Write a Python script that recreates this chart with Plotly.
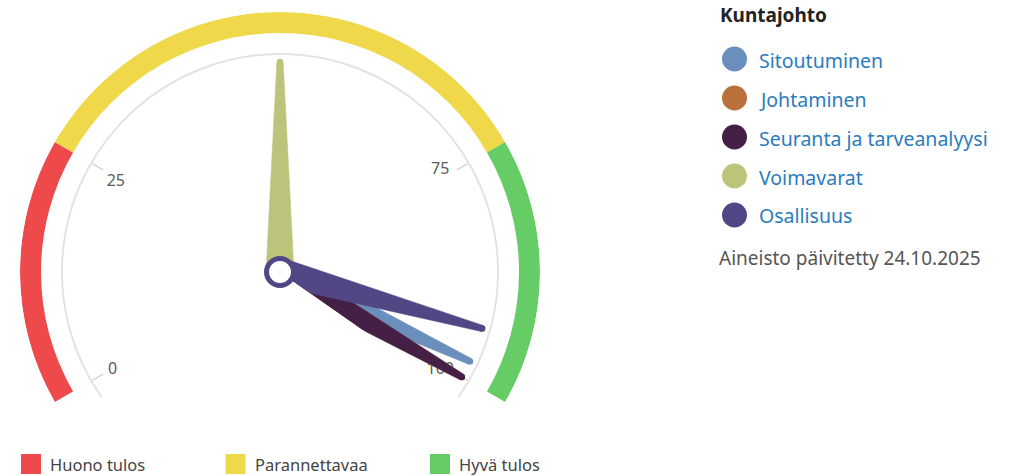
import math
import plotly.graph_objects as go

W, H = 1015, 476

# ---------------- data ----------------
series_names = ["Sitoutuminen", "Johtaminen", "Seuranta ja tarveanalyysi", "Voimavarat", "Osallisuus"]
series_values = [98, 100, 100, 50, 94]
series_colors = ["#6b8fbd", "#b9703a", "#442047", "#bcc47b", "#524685"]

band_names = ["Huono tulos", "Parannettavaa", "Hyvä tulos"]
band_from = [0, 25, 75]
band_to = [25, 75, 100]
band_colors = ["#ef4a4b", "#efd84a", "#66cc66"]

tick_values = [0, 25, 75, 100]
tick_labels = ["0", "25", "75", "100"]

legend_title = "Kuntajohto"
updated_text = "Aineisto päivitetty 24.10.2025"

# ---------------- gauge scale ----------------
GAUGE_MIN, GAUGE_MAX = 0, 100
START_ANGLE, END_ANGLE = -120, 120


def to_theta(v):
    return START_ANGLE + (v - GAUGE_MIN) / (GAUGE_MAX - GAUGE_MIN) * (END_ANGLE - START_ANGLE)


FONT = "Noto Sans"
CX, CY, R = 280, 272, 260
SECTOR = [-35, 215]
# small per-label placement tweaks (style only)
LABEL_R = [194, 187, 190, 188]
LABEL_DTHETA = [-0.3, -1.4, -2.5, 1.5]


def px(x):
    return x / W


def py(y):
    return 1 - y / H


fig = go.Figure()

# colored bands
fig.add_trace(go.Barpolar(
    r=[21] * len(band_from),
    base=[239] * len(band_from),
    theta=[to_theta((a + b) / 2) for a, b in zip(band_from, band_to)],
    width=[to_theta(b) - to_theta(a) for a, b in zip(band_from, band_to)],
    marker=dict(color=band_colors, line=dict(width=0)),
    hoverinfo="skip", showlegend=False,
))

# tick marks
tr, tt = [], []
for v in tick_values:
    tr += [204, 217, None]
    tt += [to_theta(v), to_theta(v), None]
fig.add_trace(go.Scatterpolar(r=tr, theta=tt, mode="lines",
                              line=dict(color="#cfcfcf", width=1.2),
                              hoverinfo="skip", showlegend=False))

# tick labels
fig.add_trace(go.Scatterpolar(
    r=LABEL_R, theta=[to_theta(v) + dt for v, dt in zip(tick_values, LABEL_DTHETA)],
    mode="text", text=tick_labels,
    textfont=dict(family=FONT, size=16, color="#5a5a5a"),
    hoverinfo="skip", showlegend=False))

# needles
BASE_HALF, TIP_R, TIP_HALF = 14, 210, 3.2
for name, val, col in zip(series_names, series_values, series_colors):
    th = to_theta(val)
    d = math.degrees(math.atan(TIP_HALF / TIP_R))
    fig.add_trace(go.Scatterpolar(
        r=[BASE_HALF, TIP_R, TIP_R, BASE_HALF, BASE_HALF],
        theta=[th - 90, th - d, th + d, th + 90, th - 90],
        mode="lines", fill="toself", fillcolor=col,
        line=dict(color=col, width=0.5),
        name=name, hoverinfo="name", showlegend=False))
    fig.add_trace(go.Scatterpolar(
        r=[TIP_R], theta=[th], mode="markers",
        marker=dict(size=2 * TIP_HALF, color=col, line=dict(width=0)),
        hoverinfo="skip", showlegend=False))

# pivot
fig.add_trace(go.Scatterpolar(
    r=[0], theta=[0], mode="markers",
    marker=dict(size=27, color="white", line=dict(color=series_colors[-1], width=5)),
    hoverinfo="skip", showlegend=False))

# polar domain so that center/radius land at CX, CY, R
ymin = min(math.sin(math.radians(SECTOR[0])), math.sin(math.radians(SECTOR[1])))
top = CY - R
bottom = CY - ymin * R
fig.update_layout(
    polar=dict(
        domain=dict(x=[px(CX - R), px(CX + R)], y=[py(bottom), py(top)]),
        sector=SECTOR,
        bgcolor="white",
        radialaxis=dict(range=[0, R], tickvals=[218], showticklabels=False, ticks="",
                        showline=False, showgrid=True, gridcolor="#e3e3e3", gridwidth=1.5),
        angularaxis=dict(rotation=90, direction="clockwise", thetaunit="degrees",
                         showgrid=False, showticklabels=False, ticks="", showline=False),
    ),
    width=W, height=H,
    margin=dict(l=0, r=0, t=0, b=0),
    paper_bgcolor="white",
    showlegend=False,
)

shapes = []
annotations = []

# right legend
annotations.append(dict(x=px(718), y=py(15), xref="paper", yref="paper",
                        text="<b>" + legend_title + "</b>", showarrow=False,
                        xanchor="left", yanchor="middle",
                        font=dict(family=FONT, size=19, color="#222222")))
for i, (name, col) in enumerate(zip(series_names, series_colors)):
    yc = 59 + i * 39
    shapes.append(dict(type="circle", xref="paper", yref="paper",
                       x0=px(722), x1=px(747), y0=py(yc + 12.5), y1=py(yc - 12.5),
                       fillcolor=col, line=dict(width=0)))
    annotations.append(dict(x=px(757), y=py(yc + 1), xref="paper", yref="paper",
                            text=name, showarrow=False, xanchor="left", yanchor="middle",
                            font=dict(family=FONT, size=19.5, color="#2b7bbe")))
annotations.append(dict(x=px(717), y=py(258), xref="paper", yref="paper",
                        text=updated_text, showarrow=False, xanchor="left", yanchor="middle",
                        font=dict(family=FONT, size=19, color="#555555")))

# bottom legend
for i, (name, col) in enumerate(zip(band_names, band_colors)):
    x0 = 21 + i * 204.5
    shapes.append(dict(type="rect", xref="paper", yref="paper",
                       x0=px(x0), x1=px(x0 + 20), y0=py(474), y1=py(454),
                       fillcolor=col, line=dict(width=0)))
    annotations.append(dict(x=px(x0 + 27), y=py(464), xref="paper", yref="paper",
                            text=name, showarrow=False, xanchor="left", yanchor="middle",
                            font=dict(family=FONT, size=16.5, color="#444444")))

fig.update_layout(shapes=shapes, annotations=annotations)
fig.write_html("out.html",
               config={"displayModeBar": False},
               post_script="document.body.style.margin='0';document.body.style.padding='0';")
